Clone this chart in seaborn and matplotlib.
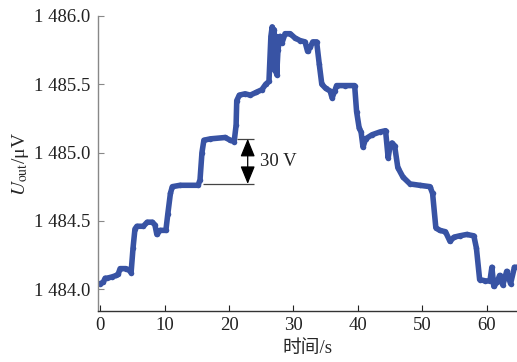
import numpy as np
import pandas as pd
import matplotlib
matplotlib.use("Agg")
import matplotlib.pyplot as plt
import seaborn as sns
from matplotlib.ticker import FuncFormatter

# 时间 (s) 与输出电压 (μV)
time_s = [0.0, 0.47, 0.78, 1.1, 1.9, 2.5, 2.8, 3.1, 4.0, 4.5, 4.8, 5.1, 5.4, 5.7,
          6.7, 7.3, 8.1, 8.5, 8.8, 9.3, 10.2, 10.5, 10.9, 11.2, 12.4, 15.2, 15.5,
          15.8, 16.1, 17.1, 19.4, 20.2, 20.8, 21.1, 21.2, 21.6, 22.5, 23.3, 24.2,
          25.1, 25.7, 26.2, 26.5, 26.7, 26.8, 27.0, 27.1, 27.3, 27.4, 27.6, 27.9,
          28.2, 28.7, 29.5, 30.2, 31.0, 31.8, 32.2, 32.6, 33.0, 33.6, 34.0, 34.4,
          35.0, 35.7, 36.0, 36.4, 36.7, 38.0, 39.5, 39.8, 40.2, 40.5, 40.8, 41.2,
          42.2, 43.4, 44.3, 44.7, 45.0, 45.3, 45.7, 46.2, 47.0, 48.1, 49.6, 51.2,
          51.6, 52.1, 52.7, 53.6, 54.3, 54.9, 55.8, 56.9, 58.0, 58.4, 58.9, 59.8,
          60.5, 60.8, 61.1, 61.6, 62.0, 62.5, 63.1, 63.7, 64.3, 64.7]
u_out = [1484.04, 1484.05, 1484.08, 1484.08, 1484.09, 1484.10, 1484.11, 1484.15,
         1484.15, 1484.14, 1484.12, 1484.30, 1484.44, 1484.46, 1484.46, 1484.49,
         1484.49, 1484.47, 1484.40, 1484.43, 1484.43, 1484.55, 1484.70, 1484.75,
         1484.76, 1484.76, 1484.80, 1485.00, 1485.09, 1485.10, 1485.11, 1485.09,
         1485.08, 1485.20, 1485.38, 1485.42, 1485.43, 1485.42, 1485.44, 1485.46,
         1485.50, 1485.52, 1485.85, 1485.92, 1485.70, 1485.90, 1485.60, 1485.85,
         1485.57, 1485.75, 1485.85, 1485.80, 1485.87, 1485.87, 1485.84, 1485.82,
         1485.81, 1485.74, 1485.77, 1485.81, 1485.81, 1485.65, 1485.50, 1485.47,
         1485.45, 1485.40, 1485.45, 1485.49, 1485.49, 1485.49, 1485.30, 1485.18,
         1485.15, 1485.04, 1485.10, 1485.13, 1485.15, 1485.16, 1484.96, 1485.05,
         1485.07, 1485.05, 1484.89, 1484.82, 1484.77, 1484.76, 1484.75, 1484.70,
         1484.45, 1484.43, 1484.42, 1484.35, 1484.38, 1484.39, 1484.40, 1484.39,
         1484.30, 1484.07, 1484.06, 1484.06, 1484.16, 1484.02, 1484.05, 1484.10,
         1484.03, 1484.13, 1484.04, 1484.16, 1484.16]

x_ticks = [0, 10, 20, 30, 40, 50, 60]
y_ticks = [1484.0, 1484.5, 1485.0, 1485.5, 1486.0]

# 30 V 标注的上下两个电平
level_hi = 1485.10
level_lo = 1484.77

sns.set_style("ticks")
plt.rcParams['font.family'] = ['Liberation Serif', 'Noto Sans CJK SC']
plt.rcParams['mathtext.fontset'] = 'stix'

df = pd.DataFrame({'t': time_s, 'u': u_out})

fig = plt.figure(figsize=(5.17, 3.62), dpi=100)
ax = fig.add_axes([0.19, 0.141, 0.81, 0.815])

sns.lineplot(data=df, x='t', y='u', ax=ax, estimator=None, sort=False,
             color='#3853a4', linewidth=4.0, marker='o', markersize=4,
             markeredgewidth=0, solid_capstyle='round', solid_joinstyle='round')

ax.set_xlim(-0.3, 64.7)
ax.set_ylim(1483.84, 1486.0)
ax.set_xticks(x_ticks)
ax.set_yticks(y_ticks)
ax.yaxis.set_major_formatter(FuncFormatter(
    lambda v, p: f"{int(v) // 1000} {v - 1000 * (int(v) // 1000):05.1f}"))
ax.tick_params(direction='in', length=4, width=0.8, labelsize=13.5,
               colors='#222222', labelcolor='#222222')
ax.tick_params(axis='y', pad=6, color='#888888')
ax.tick_params(axis='x', pad=4)

sns.despine(ax=ax)
ax.spines['left'].set_color('#888888')
ax.spines['bottom'].set_color('#333333')
ax.spines['left'].set_linewidth(1.0)
ax.spines['bottom'].set_linewidth(1.0)

ax.set_xlabel('时间/s', fontsize=13.5, labelpad=5)
ax.set_ylabel(r'$U_{\rm out}$/μV', fontsize=14, labelpad=2)

# 30 V 标注
ax.hlines(level_hi, 21.2, 23.9, color='#444444', linewidth=0.9)
ax.hlines(level_lo, 15.9, 23.9, color='#444444', linewidth=0.9)
ax.annotate('', xy=(22.9, level_hi), xytext=(22.9, level_lo),
            arrowprops=dict(arrowstyle='<|-|>,head_length=1.1,head_width=0.45',
                            color='black', linewidth=0.9, shrinkA=0, shrinkB=0))
ax.text(24.8, (level_hi + level_lo) / 2, '30 V', fontsize=13.5,
        va='center', ha='left', color='#222222')

fig.savefig('out.png', dpi=100)
